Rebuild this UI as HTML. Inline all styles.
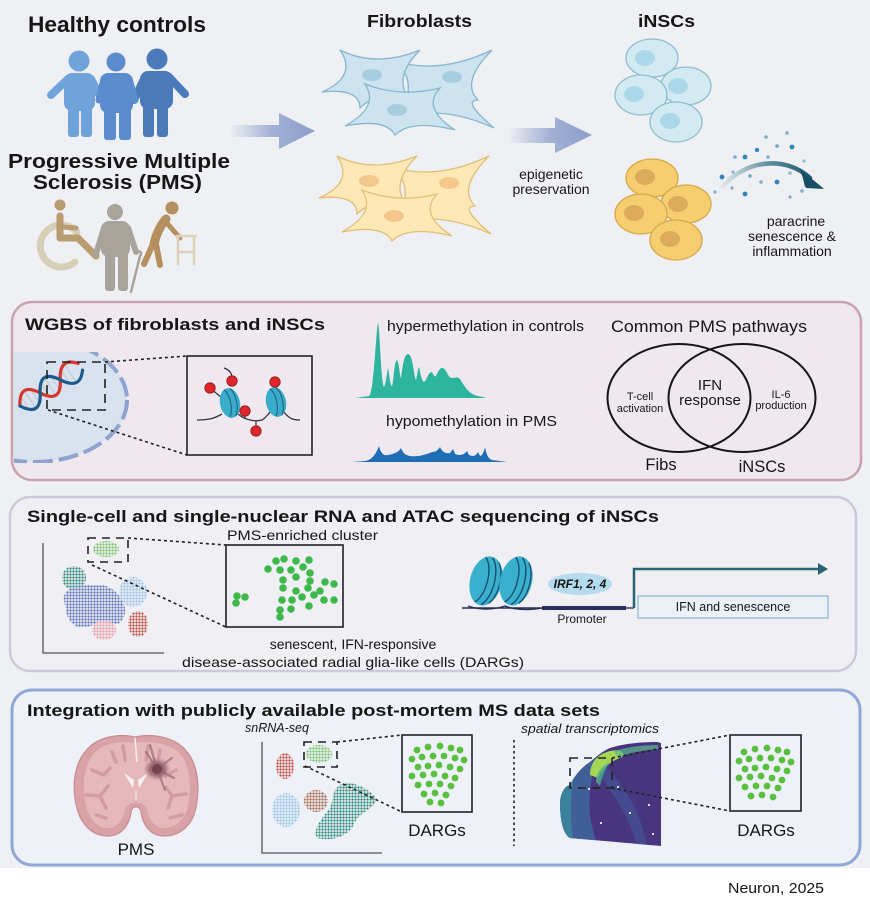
<!DOCTYPE html>
<html><head><meta charset="utf-8"><style>
html,body{margin:0;padding:0;background:#fff;}
svg{display:block;}
text{font-family:"Liberation Sans",Arial,sans-serif;fill:#161616;}
</style></head><body>
<svg width="870" height="908" viewBox="0 0 870 908" xmlns="http://www.w3.org/2000/svg">
<defs>
<linearGradient id="ga" x1="0" x2="1" y1="0" y2="0"><stop offset="0" stop-color="#eff0f4"/><stop offset="0.5" stop-color="#a3b1d6"/><stop offset="1" stop-color="#8d9dcb"/></linearGradient>
<linearGradient id="gp" gradientUnits="userSpaceOnUse" x1="720" y1="0" x2="820" y2="0"><stop offset="0" stop-color="#e6edf1"/><stop offset="0.5" stop-color="#5b8a9a"/><stop offset="1" stop-color="#174f63"/></linearGradient>
<radialGradient id="gl"><stop offset="0" stop-color="#6e3c48"/><stop offset="0.6" stop-color="#9a6670" stop-opacity="0.8"/><stop offset="1" stop-color="#c89096" stop-opacity="0"/></radialGradient>
<pattern id="pG" width="3" height="3" patternUnits="userSpaceOnUse"><circle cx="1.5" cy="1.5" r="1.15" fill="#7cc36b"/></pattern>
<pattern id="pT" width="3" height="3" patternUnits="userSpaceOnUse"><circle cx="1.5" cy="1.5" r="1.15" fill="#2d8a79"/></pattern>
<pattern id="pB" width="3" height="3" patternUnits="userSpaceOnUse"><circle cx="1.5" cy="1.5" r="1.15" fill="#5a72b8"/></pattern>
<pattern id="pL" width="3" height="3" patternUnits="userSpaceOnUse"><circle cx="1.5" cy="1.5" r="1.15" fill="#98c4e8"/></pattern>
<pattern id="pR" width="3" height="3" patternUnits="userSpaceOnUse"><circle cx="1.5" cy="1.5" r="1.15" fill="#c4473b"/></pattern>
<pattern id="pP" width="3" height="3" patternUnits="userSpaceOnUse"><circle cx="1.5" cy="1.5" r="1.15" fill="#ee98a5"/></pattern>
<pattern id="pN" width="3" height="3" patternUnits="userSpaceOnUse"><circle cx="1.5" cy="1.5" r="1.15" fill="#a5694b"/></pattern>
<clipPath id="cn"><rect x="14" y="352" width="120" height="111"/></clipPath>
<clipPath id="ct"><path d="M610,748 C625,743 645,742 657,742 L661,743 L661,846 L570,838 C563,834 560,820 560,802 C561,792 565,786 570,785 C575,775 582,767 590,762 C597,756 603,751 610,748 Z"/></clipPath>
</defs>

<rect x="0" y="0" width="870" height="868" fill="#eff0f4"/>

<!-- ===== TOP ROW ===== -->
<text x="28" y="32" font-size="22.5" font-weight="bold" textLength="178" lengthAdjust="spacingAndGlyphs">Healthy controls</text>

<g fill="#6fa3da" stroke="#6fa3da" stroke-linecap="round">
  <circle cx="79" cy="61" r="10.5" stroke="none"/>
  <rect x="64" y="73" width="31" height="38" rx="8" stroke="none"/>
  <line x1="68" y1="79" x2="51" y2="95" stroke-width="8"/>
  <line x1="91" y1="79" x2="102" y2="100" stroke-width="8"/>
  <rect x="68" y="100" width="11" height="37" rx="3" stroke="none"/>
  <rect x="81" y="100" width="11" height="37" rx="3" stroke="none"/>
</g>
<g fill="#4b7aba" stroke="#4b7aba" stroke-linecap="round">
  <circle cx="157" cy="59" r="10.5" stroke="none"/>
  <rect x="140" y="71" width="33" height="38" rx="8" stroke="none"/>
  <line x1="145" y1="77" x2="134" y2="100" stroke-width="8"/>
  <line x1="169" y1="77" x2="185" y2="94" stroke-width="8"/>
  <rect x="143" y="100" width="11" height="37" rx="3" stroke="none"/>
  <rect x="157" y="100" width="11" height="37" rx="3" stroke="none"/>
</g>
<g fill="#5b8dce" stroke="#5b8dce" stroke-linecap="round">
  <circle cx="116" cy="62" r="9.5" stroke="none"/>
  <rect x="100" y="73" width="33" height="40" rx="8" stroke="none"/>
  <line x1="104" y1="79" x2="99" y2="100" stroke-width="7"/>
  <line x1="129" y1="79" x2="135" y2="100" stroke-width="7"/>
  <rect x="104" y="104" width="12" height="36" rx="3" stroke="none"/>
  <rect x="119" y="104" width="12" height="36" rx="3" stroke="none"/>
</g>

<text x="8" y="168" font-size="20" font-weight="bold" textLength="222" lengthAdjust="spacingAndGlyphs">Progressive Multiple</text>
<text x="33" y="189" font-size="20" font-weight="bold" textLength="169" lengthAdjust="spacingAndGlyphs">Sclerosis (PMS)</text>

<path d="M77,232 A21,21 0 1 0 75,262" fill="none" stroke="#d8cfb8" stroke-width="7" stroke-linecap="round"/>
<g stroke="#b99c70" fill="none" stroke-linecap="round" stroke-linejoin="round">
  <circle cx="60" cy="205" r="5.5" fill="#b99c70" stroke="none"/>
  <path d="M60,216 L60,238 L78,238 L96,256" stroke-width="7"/>
  <path d="M61,227 L76,228" stroke-width="5"/>
</g>
<g stroke="#a9a49b" fill="#a9a49b" stroke-linecap="round" stroke-linejoin="round">
  <circle cx="115" cy="212" r="8" stroke="none"/>
  <rect x="101" y="221" width="29" height="36" rx="8" stroke="none"/>
  <path d="M104,228 L96,254" stroke-width="6" fill="none"/>
  <path d="M128,228 L136,252" stroke-width="6" fill="none"/>
  <rect x="105" y="250" width="10" height="41" rx="3" stroke="none"/>
  <rect x="118" y="250" width="10" height="41" rx="3" stroke="none"/>
  <path d="M138,252 C141,250 142,254 140,256 L131,292" stroke-width="2.5" fill="none"/>
</g>
<g stroke="#b58f5e" fill="none" stroke-linecap="round" stroke-linejoin="round">
  <circle cx="172" cy="208" r="6.5" fill="#b58f5e" stroke="none"/>
  <path d="M166,219 C160,226 156,235 154,244" stroke-width="9"/>
  <path d="M166,222 L180,238" stroke-width="5"/>
  <path d="M153,244 L144,264" stroke-width="6"/>
  <path d="M156,244 L160,265" stroke-width="6"/>
</g>
<g stroke="#dcd2bb" fill="none" stroke-width="2.6" stroke-linecap="round">
  <path d="M176,236 L196,236 M178,236 L178,264 M194,236 L194,264 M178,252 L194,252"/>
</g>

<path d="M229,125 L279,125 L279,113 L315,131 L279,149 L279,137 L229,137 Z" fill="url(#ga)"/>

<text x="367" y="27" font-size="17.5" font-weight="bold" textLength="105" lengthAdjust="spacingAndGlyphs">Fibroblasts</text>

<g stroke="#86b8d0" stroke-width="1.3" fill="#cde3ef">
  <path d="M398,62 Q442,74 492,50 Q460,82 478,100 Q461,100 494,128 Q442,104 395,118 Q420,89 398,62 Z"/>
  <path d="M322,92 Q358,76 340,50 Q376,68 420,50 Q392,78 410,100 Q378,90 360,108 Q360,88 322,92 Z"/>
  <path d="M345,126 Q380,107 365,84 Q401,98 440,88 Q421,108 455,130 Q411,119 395,135 Q386,118 345,126 Z"/>
</g>
<g fill="#a8cde0">
  <ellipse cx="452" cy="77" rx="10" ry="6"/>
  <ellipse cx="372" cy="75" rx="10" ry="6"/>
  <ellipse cx="397" cy="110" rx="10" ry="6"/>
</g>
<g transform="translate(-3,106)">
<g stroke="#e2bf78" stroke-width="1.3" fill="#fde8b6">
  <path d="M398,62 Q442,74 492,50 Q460,82 478,100 Q461,100 494,128 Q442,104 395,118 Q420,89 398,62 Z"/>
  <path d="M322,92 Q358,76 340,50 Q376,68 420,50 Q392,78 410,100 Q378,90 360,108 Q360,88 322,92 Z"/>
  <path d="M345,126 Q380,107 365,84 Q401,98 440,88 Q421,108 455,130 Q411,119 395,135 Q386,118 345,126 Z"/>
</g>
<g fill="#f4c88d">
  <ellipse cx="452" cy="77" rx="10" ry="6"/>
  <ellipse cx="372" cy="75" rx="10" ry="6"/>
  <ellipse cx="397" cy="110" rx="10" ry="6"/>
</g>
</g>

<path d="M508,128 L555,128 L555,117 L592,135 L555,153 L555,143 L508,143 Z" fill="url(#ga)"/>
<text x="551" y="179" font-size="14" text-anchor="middle" fill="#222">epigenetic</text>
<text x="551" y="194" font-size="14" text-anchor="middle" fill="#222">preservation</text>

<text x="638" y="27" font-size="17.5" font-weight="bold" textLength="57" lengthAdjust="spacingAndGlyphs">iNSCs</text>

<g stroke="#8fbfcf" stroke-width="1.3" fill="#d4eaf3">
  <ellipse cx="652" cy="58" rx="26" ry="19"/>
  <ellipse cx="686" cy="86" rx="25" ry="19"/>
  <ellipse cx="641" cy="95" rx="26" ry="20"/>
  <ellipse cx="676" cy="122" rx="26" ry="20"/>
</g>
<g fill="#acd9e9">
  <ellipse cx="645" cy="58" rx="10" ry="8"/>
  <ellipse cx="678" cy="86" rx="10" ry="8"/>
  <ellipse cx="634" cy="94" rx="10" ry="8"/>
  <ellipse cx="670" cy="121" rx="10" ry="8"/>
</g>
<g stroke="#d6a84a" stroke-width="1.3" fill="#f6cd6f">
  <ellipse cx="652" cy="178" rx="26" ry="19"/>
  <ellipse cx="686" cy="204" rx="25" ry="19"/>
  <ellipse cx="641" cy="214" rx="26" ry="20"/>
  <ellipse cx="676" cy="240" rx="26" ry="20"/>
</g>
<g fill="#dcab5c">
  <ellipse cx="645" cy="177" rx="10" ry="8"/>
  <ellipse cx="678" cy="204" rx="10" ry="8"/>
  <ellipse cx="634" cy="213" rx="10" ry="8"/>
  <ellipse cx="670" cy="239" rx="10" ry="8"/>
</g>

<g fill="#2f86b8">
  <circle cx="766" cy="137" r="1.8" opacity=".6"/><circle cx="787" cy="133" r="1.8" opacity=".6"/>
  <circle cx="757" cy="150" r="2.2"/><circle cx="777" cy="146" r="1.8" opacity=".7"/>
  <circle cx="792" cy="147" r="2.4"/><circle cx="735" cy="157" r="1.8" opacity=".6"/>
  <circle cx="745" cy="157" r="2.4"/><circle cx="768" cy="157" r="1.8" opacity=".6"/>
  <circle cx="804" cy="161" r="1.6" opacity=".5"/><circle cx="722" cy="177" r="2.4"/>
  <circle cx="733" cy="172" r="1.6" opacity=".5"/><circle cx="750" cy="176" r="1.8" opacity=".7"/>
  <circle cx="761" cy="182" r="1.8" opacity=".6"/><circle cx="777" cy="182" r="2.4"/>
  <circle cx="790" cy="173" r="1.8" opacity=".5"/><circle cx="715" cy="192" r="1.6" opacity=".6"/>
  <circle cx="732" cy="188" r="1.6" opacity=".6"/><circle cx="745" cy="194" r="2.4"/>
  <circle cx="790" cy="197" r="1.6" opacity=".6"/><circle cx="802" cy="191" r="1.8" opacity=".6"/>
</g>
<path d="M722,187 C745,160 785,155 810,178" fill="none" stroke="url(#gp)" stroke-width="4.5" stroke-linecap="round"/>
<path d="M801,170 L823,188 L810,183 L805,187 Z M800,169 L824,189 L806,188 Z" fill="#174f63"/>
<text x="796" y="226" font-size="14" text-anchor="middle" fill="#222">paracrine</text>
<text x="792" y="241" font-size="14" text-anchor="middle" fill="#222">senescence &amp;</text>
<text x="792" y="256" font-size="14" text-anchor="middle" fill="#222">inflammation</text>

<!-- ===== SECTION 2 ===== -->
<rect x="12" y="302" width="849" height="178" rx="20" fill="#efe9ef" stroke="#c9a4ae" stroke-width="2.5"/>
<text x="25" y="330" font-size="17" font-weight="bold" textLength="300" lengthAdjust="spacingAndGlyphs">WGBS of fibroblasts and iNSCs</text>

<g clip-path="url(#cn)">
  <ellipse cx="34" cy="400" rx="93" ry="62" fill="#d9e2ef"/>
  <ellipse cx="34" cy="400" rx="93" ry="62" fill="none" stroke="#8fa3cf" stroke-width="4" stroke-dasharray="20,6"/>
</g>
<g transform="translate(20,406) rotate(-33)" fill="none" stroke-linecap="round">
  <g stroke="#c9c9d0" stroke-width="1.2">
    <line x1="6" y1="-8" x2="6" y2="8"/><line x1="12" y1="-10" x2="12" y2="10"/><line x1="18" y1="-8" x2="18" y2="8"/>
    <line x1="30" y1="-8" x2="30" y2="8"/><line x1="36" y1="-10" x2="36" y2="10"/><line x1="42" y1="-8" x2="42" y2="8"/>
    <line x1="54" y1="-8" x2="54" y2="8"/><line x1="60" y1="-10" x2="60" y2="10"/>
  </g>
  <path d="M0,0 C8,-14 16,-14 24,0 S40,14 48,0 S64,-14 72,-4" stroke="#d4382e" stroke-width="3.2"/>
  <path d="M0,0 C8,14 16,14 24,0 S40,-14 48,0 S64,14 72,4" stroke="#1c5c8c" stroke-width="3.2"/>
</g>
<rect x="47" y="362" width="58" height="48" fill="none" stroke="#222" stroke-width="1.6" stroke-dasharray="9,6"/>
<line x1="105" y1="362" x2="187" y2="356" stroke="#222" stroke-width="1.6" stroke-dasharray="3,3"/>
<line x1="48" y1="410" x2="187" y2="455" stroke="#222" stroke-width="1.6" stroke-dasharray="3,3"/>
<rect x="187" y="356" width="125" height="99" fill="#efe9ef" stroke="#222" stroke-width="1.6"/>
<path d="M197,420 C210,420 215,418 222,414 M238,414 C245,420 255,422 262,420 C266,418 268,414 270,412 M284,412 C290,420 295,420 300,420" fill="none" stroke="#333344" stroke-width="1.3"/>
<path d="M256,421 L256,430 M245,411 L245,418 M224,368 C230,370 233,374 232,381 M210,388 L222,398 M275,382 L276,392" fill="none" stroke="#333344" stroke-width="1.2"/>
<g transform="rotate(-12 230 403)">
  <ellipse cx="230" cy="403" rx="10" ry="15" fill="#3aaccb"/>
  <path d="M227,389 C232,395 232,410 227,417 M233,389 C238,395 238,410 233,417" fill="none" stroke="#1e6f8c" stroke-width="1.3"/>
</g>
<g transform="rotate(-12 276 402)">
  <ellipse cx="276" cy="402" rx="10" ry="15" fill="#3aaccb"/>
  <path d="M273,388 C278,394 278,409 273,416 M279,388 C284,394 284,409 279,416" fill="none" stroke="#1e6f8c" stroke-width="1.3"/>
</g>
<g fill="#e0262a" stroke="#8a1a1a" stroke-width="0.8">
  <circle cx="210" cy="388" r="5.2"/><circle cx="232" cy="381" r="5.2"/><circle cx="245" cy="411" r="5.2"/>
  <circle cx="256" cy="431" r="5.2"/><circle cx="275" cy="382" r="5.2"/>
</g>

<text x="387" y="331" font-size="14.5" textLength="197" lengthAdjust="spacingAndGlyphs" fill="#222">hypermethylation in controls</text>
<path d="M355,398 L369,396 C374,393 376,330 378,323 C380,330 381,384 384,387 C386,384 387,372 388,368 C389,372 390,386 392,386 C394,380 394,362 397,360 C399,362 400,378 401,378 C403,365 404,354 408,354 C413,354 414,378 416,380 C417,376 418,368 419,367 C420,370 421,380 424,382 C427,380 428,373 431,372 C433,372 434,378 436,376 C438,372 440,367 443,368 C447,370 448,378 452,378 C456,378 457,376 460,379 C464,385 468,394 478,396 L487,398 Z" fill="#2db5a0"/>
<text x="386" y="426" font-size="14.5" textLength="171" lengthAdjust="spacingAndGlyphs" fill="#222">hypomethylation in PMS</text>
<path d="M352,462 L365,461 C372,460 376,454 379,446 C381,454 384,456 388,455 C393,454 398,453 401,448 C403,453 405,455 410,456 C418,457 425,455 432,452 C436,452 438,450 440,447 C442,452 446,454 450,453 L453,449 L455,454 C460,456 464,455 467,451 L469,455 C473,457 476,456 478,452 L480,456 C482,456 484,452 485,447 C486,452 487,458 492,460 L507,462 Z" fill="#1f6db4"/>

<text x="611" y="332" font-size="16.5" textLength="196" lengthAdjust="spacingAndGlyphs" fill="#222">Common PMS pathways</text>
<ellipse cx="679" cy="398" rx="71.5" ry="54" fill="none" stroke="#151515" stroke-width="2"/>
<ellipse cx="742" cy="398" rx="73.5" ry="54" fill="none" stroke="#151515" stroke-width="2"/>
<text x="710" y="390" font-size="15" text-anchor="middle" fill="#222">IFN</text>
<text x="710" y="405" font-size="15" text-anchor="middle" fill="#222">response</text>
<text x="640" y="400" font-size="11" text-anchor="middle" fill="#222">T-cell</text>
<text x="640" y="412" font-size="11" text-anchor="middle" fill="#222">activation</text>
<text x="781" y="398" font-size="11" text-anchor="middle" fill="#222">IL-6</text>
<text x="781" y="409" font-size="11" text-anchor="middle" fill="#222">production</text>
<text x="661" y="470" font-size="16.5" text-anchor="middle" fill="#222">Fibs</text>
<text x="762" y="472" font-size="16.5" text-anchor="middle" fill="#222">iNSCs</text>

<!-- ===== SECTION 3 ===== -->
<rect x="10" y="497" width="846" height="174" rx="20" fill="#efeff4" stroke="#cbcbdc" stroke-width="2.5"/>
<text x="27" y="522" font-size="17" font-weight="bold" textLength="632" lengthAdjust="spacingAndGlyphs">Single-cell and single-nuclear RNA and ATAC sequencing of iNSCs</text>
<path d="M43,543 L43,653 L164,653" fill="none" stroke="#555" stroke-width="1.3"/>
<ellipse cx="106" cy="549" rx="13" ry="8" fill="url(#pG)"/>
<ellipse cx="74" cy="578" rx="12" ry="12" fill="url(#pT)"/>
<path d="M64,600 C62,588 80,583 95,585 C110,583 122,595 125,608 C126,620 118,628 108,623 C98,619 90,630 78,627 C66,622 66,610 64,600 Z" fill="url(#pB)"/>
<ellipse cx="133" cy="592" rx="14" ry="15" fill="url(#pL)"/>
<ellipse cx="138" cy="624" rx="10" ry="13" fill="url(#pR)"/>
<ellipse cx="104" cy="630" rx="12" ry="10" fill="url(#pP)"/>
<rect x="88" y="538" width="40" height="24" fill="none" stroke="#222" stroke-width="1.6" stroke-dasharray="8,6"/>
<line x1="128" y1="538" x2="226" y2="545" stroke="#222" stroke-width="1.6" stroke-dasharray="3,3"/>
<line x1="92" y1="565" x2="226" y2="627" stroke="#222" stroke-width="1.6" stroke-dasharray="3,3"/>
<text x="227" y="540" font-size="14" textLength="151" lengthAdjust="spacingAndGlyphs" fill="#222">PMS-enriched cluster</text>
<rect x="226" y="545" width="117" height="82" fill="#efeff4" stroke="#222" stroke-width="1.6"/>
<g fill="#3cb94a">
  <circle cx="237" cy="596" r="3.8"/><circle cx="245" cy="597" r="3.8"/><circle cx="236" cy="603" r="3.8"/>
  <circle cx="276" cy="561" r="3.8"/><circle cx="284" cy="559" r="3.8"/><circle cx="296" cy="561" r="3.8"/><circle cx="309" cy="560" r="3.8"/>
  <circle cx="268" cy="569" r="3.8"/><circle cx="280" cy="570" r="3.8"/><circle cx="291" cy="570" r="3.8"/><circle cx="303" cy="567" r="3.8"/><circle cx="310" cy="573" r="3.8"/>
  <circle cx="283" cy="580" r="3.8"/><circle cx="296" cy="577" r="3.8"/><circle cx="310" cy="581" r="3.8"/><circle cx="325" cy="582" r="3.8"/><circle cx="334" cy="584" r="3.8"/>
  <circle cx="283" cy="588" r="3.8"/><circle cx="296" cy="591" r="3.8"/><circle cx="308" cy="588" r="3.8"/><circle cx="320" cy="591" r="3.8"/>
  <circle cx="282" cy="600" r="3.8"/><circle cx="292" cy="600" r="3.8"/><circle cx="302" cy="597" r="3.8"/><circle cx="314" cy="595" r="3.8"/><circle cx="324" cy="600" r="3.8"/>
  <circle cx="280" cy="610" r="3.8"/><circle cx="291" cy="609" r="3.8"/><circle cx="309" cy="606" r="3.8"/><circle cx="334" cy="600" r="3.8"/><circle cx="280" cy="617" r="3.8"/>
</g>
<text x="353" y="649" font-size="14" text-anchor="middle" fill="#222">senescent, IFN-responsive</text>
<text x="182" y="667" font-size="14" textLength="342" lengthAdjust="spacingAndGlyphs" fill="#222">disease-associated radial glia-like cells (DARGs)</text>

<path d="M462,608 L542,608" stroke="#2b2f55" stroke-width="1.4"/>
<g transform="rotate(14 486 581)">
  <ellipse cx="486" cy="581" rx="16" ry="25" fill="#3ab0cf"/>
  <path d="M480,558 C490,566 490,596 480,604 M487,557 C497,566 497,596 487,605 M494,560 C502,570 502,592 494,602" fill="none" stroke="#1c4f6e" stroke-width="1.4"/>
</g>
<g transform="rotate(14 516 581)">
  <ellipse cx="516" cy="581" rx="16" ry="25" fill="#3ab0cf"/>
  <path d="M510,558 C520,566 520,596 510,604 M517,557 C527,566 527,596 517,605 M524,560 C532,570 532,592 524,602" fill="none" stroke="#1c4f6e" stroke-width="1.4"/>
</g>
<path d="M468,606 C478,610 494,610 505,606 C512,609 528,611 542,608" fill="none" stroke="#2b2f55" stroke-width="1.4"/>
<line x1="542" y1="608" x2="626" y2="608" stroke="#2a2d5c" stroke-width="4"/>
<line x1="626" y1="608" x2="634" y2="608" stroke="#2b2f55" stroke-width="1.4"/>
<ellipse cx="580" cy="584" rx="32" ry="11" fill="#b5dbef"/>
<text x="580" y="588" font-size="12" font-weight="bold" font-style="italic" text-anchor="middle" fill="#2c3a6c">IRF1, 2, 4</text>
<text x="582" y="623" font-size="12" text-anchor="middle" fill="#333">Promoter</text>
<path d="M634,608 L634,569 L820,569" fill="none" stroke="#2a6474" stroke-width="2.5"/>
<path d="M818,563 L828,569 L818,575 Z" fill="#2a6474"/>
<rect x="638" y="596" width="190" height="22" fill="#eaf2f8" stroke="#8cb5cc" stroke-width="1.2"/>
<text x="733" y="611" font-size="12.5" text-anchor="middle" fill="#3e6b95">IFN and senescence</text>

<!-- ===== SECTION 4 ===== -->
<rect x="12" y="690" width="848" height="175" rx="20" fill="#eef1f7" stroke="#8fa8d6" stroke-width="3"/>
<text x="27" y="716" font-size="17" font-weight="bold" textLength="573" lengthAdjust="spacingAndGlyphs">Integration with publicly available post-mortem MS data sets</text>

<path d="M135,737 C118,733 96,737 85,752 C73,767 72,790 77,808 C81,825 93,836 108,836 C121,836 129,826 131,812 C132,805 140,805 141,812 C143,826 151,836 164,836 C181,836 193,824 196,807 C200,787 198,765 187,752 C176,737 152,733 135,737 Z" fill="#d9a2a6" stroke="#c88c91" stroke-width="1.2"/>
<path d="M135,743 C120,740 100,744 92,756 C83,769 82,790 86,806 C90,820 98,828 108,828 C117,828 123,820 125,810 C127,800 145,800 147,810 C149,820 155,828 164,828 C175,828 185,820 188,806 C192,789 190,769 182,756 C173,744 150,740 135,743 Z" fill="#e5b9bb"/>
<g stroke="#d49ca1" stroke-width="3.5" stroke-linecap="round" fill="none">
  <path d="M92,770 L104,775 L110,768 M86,795 L100,796 L106,808 M100,796 L108,786 M96,815 L106,818 M112,752 L116,762 M123,746 L125,760 M148,746 L146,760 M160,750 L158,762 M176,770 L166,776 L162,768 M186,794 L172,796 L168,808 M172,796 L166,787 M182,815 L170,818"/>
</g>
<line x1="135" y1="738" x2="137" y2="762" stroke="#f4eef0" stroke-width="1.5"/>
<path d="M124,773 L134,780 L133,788 Z M148,773 L138,780 L139,788 Z" fill="#f7f3f5"/>
<line x1="136" y1="790" x2="136" y2="800" stroke="#f4eef0" stroke-width="1"/>
<ellipse cx="157" cy="769" rx="14" ry="12" fill="url(#gl)"/>
<g stroke="#9a6670" stroke-width="2.2" stroke-linecap="round" opacity=".7" fill="none">
  <path d="M157,769 L146,752 M157,769 L172,758 M157,769 L174,778 M157,769 L165,790 M157,769 L150,745"/>
</g>
<circle cx="157" cy="769" r="5" fill="#6e3c48" opacity=".8"/>
<text x="136" y="855" font-size="17" text-anchor="middle" fill="#222">PMS</text>

<text x="245" y="732" font-size="12.5" font-style="italic" fill="#222">snRNA-seq</text>
<path d="M262,742 L262,853 L382,853" fill="none" stroke="#555" stroke-width="1.3"/>
<ellipse cx="319" cy="754" rx="13" ry="9" fill="url(#pG)"/>
<ellipse cx="285" cy="766" rx="9" ry="13" fill="url(#pR)"/>
<ellipse cx="286" cy="810" rx="14" ry="17" fill="url(#pL)"/>
<ellipse cx="316" cy="801" rx="12" ry="11" fill="url(#pN)"/>
<path d="M340,785 C352,779 372,790 377,800 C372,810 360,812 355,822 C350,835 335,842 317,838 C312,830 322,818 330,808 C334,798 332,790 340,785 Z" fill="url(#pT)"/>
<rect x="304" y="742" width="33" height="25" fill="none" stroke="#222" stroke-width="1.6" stroke-dasharray="8,6"/>
<line x1="337" y1="742" x2="402" y2="735" stroke="#222" stroke-width="1.6" stroke-dasharray="3,3"/>
<line x1="305" y1="766" x2="402" y2="812" stroke="#222" stroke-width="1.6" stroke-dasharray="3,3"/>
<rect x="402" y="735" width="70" height="77" fill="#eef1f7" stroke="#222" stroke-width="1.6"/>
<g fill="#58c03e">
  <circle cx="417" cy="750" r="3.4"/><circle cx="428" cy="747" r="3.4"/><circle cx="440" cy="746" r="3.4"/><circle cx="451" cy="748" r="3.4"/><circle cx="460" cy="750" r="3.4"/>
  <circle cx="412" cy="759" r="3.4"/><circle cx="422" cy="757" r="3.4"/><circle cx="433" cy="756" r="3.4"/><circle cx="444" cy="756" r="3.4"/><circle cx="455" cy="758" r="3.4"/><circle cx="464" cy="760" r="3.4"/>
  <circle cx="418" cy="767" r="3.4"/><circle cx="428" cy="766" r="3.4"/><circle cx="439" cy="765" r="3.4"/><circle cx="450" cy="767" r="3.4"/><circle cx="460" cy="769" r="3.4"/>
  <circle cx="412" cy="776" r="3.4"/><circle cx="423" cy="775" r="3.4"/><circle cx="434" cy="774" r="3.4"/><circle cx="445" cy="776" r="3.4"/><circle cx="455" cy="778" r="3.4"/>
  <circle cx="418" cy="785" r="3.4"/><circle cx="429" cy="784" r="3.4"/><circle cx="440" cy="784" r="3.4"/><circle cx="451" cy="786" r="3.4"/>
  <circle cx="424" cy="794" r="3.4"/><circle cx="435" cy="793" r="3.4"/><circle cx="446" cy="795" r="3.4"/><circle cx="430" cy="802" r="3.4"/><circle cx="441" cy="803" r="3.4"/>
</g>
<text x="437" y="836" font-size="17" text-anchor="middle" fill="#222">DARGs</text>

<line x1="514" y1="740" x2="514" y2="846" stroke="#222" stroke-width="1.6" stroke-dasharray="2.5,3"/>

<text x="521" y="733" font-size="12.5" font-style="italic" textLength="138" lengthAdjust="spacingAndGlyphs" fill="#222">spatial transcriptomics</text>
<g clip-path="url(#ct)">
  <rect x="555" y="738" width="110" height="112" fill="#47367f"/>
  <path d="M556,850 L556,790 C566,775 580,765 596,758 C592,775 588,795 590,815 C592,830 596,842 600,850 Z" fill="#3f6a9c" opacity=".8"/>
  <path d="M556,850 L556,800 C560,790 566,784 574,778 C570,795 570,820 574,850 Z" fill="#3a8c9f" opacity=".75"/>
  <path d="M600,760 C612,772 626,790 636,810 C642,824 646,838 648,850 L638,850 C634,832 626,814 614,796 C606,784 598,774 592,766 Z" fill="#3f5e9c" opacity=".5"/>
  <path d="M590,775 C590,762 598,754 610,751 C620,749 626,752 622,757 C612,761 604,766 598,778 Z" fill="#a6d656"/>
  <path d="M596,782 C596,772 602,766 610,762 C604,770 602,778 600,786 Z" fill="#4fae8a" opacity=".8"/>
  <path d="M614,751 C628,747 642,745 658,745 L658,749 C644,750 630,753 618,757 Z" fill="#5cb88a" opacity=".7"/>
  <g fill="#ffffff" opacity=".85"><rect x="617" y="786" width="2" height="2"/><rect x="648" y="804" width="2" height="2"/><rect x="600" y="822" width="2" height="2"/><rect x="629" y="812" width="2" height="2"/><rect x="652" y="833" width="2" height="2"/><rect x="588" y="788" width="2" height="2"/></g>
</g>
<rect x="570" y="758" width="42" height="30" fill="none" stroke="#222" stroke-width="1.6" stroke-dasharray="8,6"/>
<line x1="612" y1="758" x2="730" y2="735" stroke="#222" stroke-width="1.6" stroke-dasharray="3,3"/>
<line x1="612" y1="788" x2="730" y2="811" stroke="#222" stroke-width="1.6" stroke-dasharray="3,3"/>
<rect x="730" y="735" width="71" height="76" fill="#eef1f7" stroke="#222" stroke-width="1.6"/>
<g fill="#58c03e" transform="translate(327,0)">
  <circle cx="417" cy="752" r="3.4"/><circle cx="428" cy="749" r="3.4"/><circle cx="440" cy="748" r="3.4"/><circle cx="451" cy="750" r="3.4"/><circle cx="460" cy="752" r="3.4"/>
  <circle cx="412" cy="761" r="3.4"/><circle cx="422" cy="759" r="3.4"/><circle cx="433" cy="758" r="3.4"/><circle cx="444" cy="758" r="3.4"/><circle cx="455" cy="760" r="3.4"/><circle cx="464" cy="762" r="3.4"/>
  <circle cx="418" cy="769" r="3.4"/><circle cx="428" cy="768" r="3.4"/><circle cx="439" cy="767" r="3.4"/><circle cx="450" cy="769" r="3.4"/><circle cx="460" cy="771" r="3.4"/>
  <circle cx="412" cy="778" r="3.4"/><circle cx="423" cy="777" r="3.4"/><circle cx="434" cy="776" r="3.4"/><circle cx="445" cy="778" r="3.4"/><circle cx="455" cy="780" r="3.4"/>
  <circle cx="418" cy="787" r="3.4"/><circle cx="429" cy="786" r="3.4"/><circle cx="440" cy="786" r="3.4"/><circle cx="451" cy="788" r="3.4"/>
  <circle cx="424" cy="796" r="3.4"/><circle cx="435" cy="795" r="3.4"/><circle cx="446" cy="797" r="3.4"/>
</g>
<text x="766" y="836" font-size="17" text-anchor="middle" fill="#222">DARGs</text>

<text x="728" y="893" font-size="15" textLength="96" lengthAdjust="spacingAndGlyphs" fill="#222">Neuron, 2025</text>
</svg>
</body></html>
